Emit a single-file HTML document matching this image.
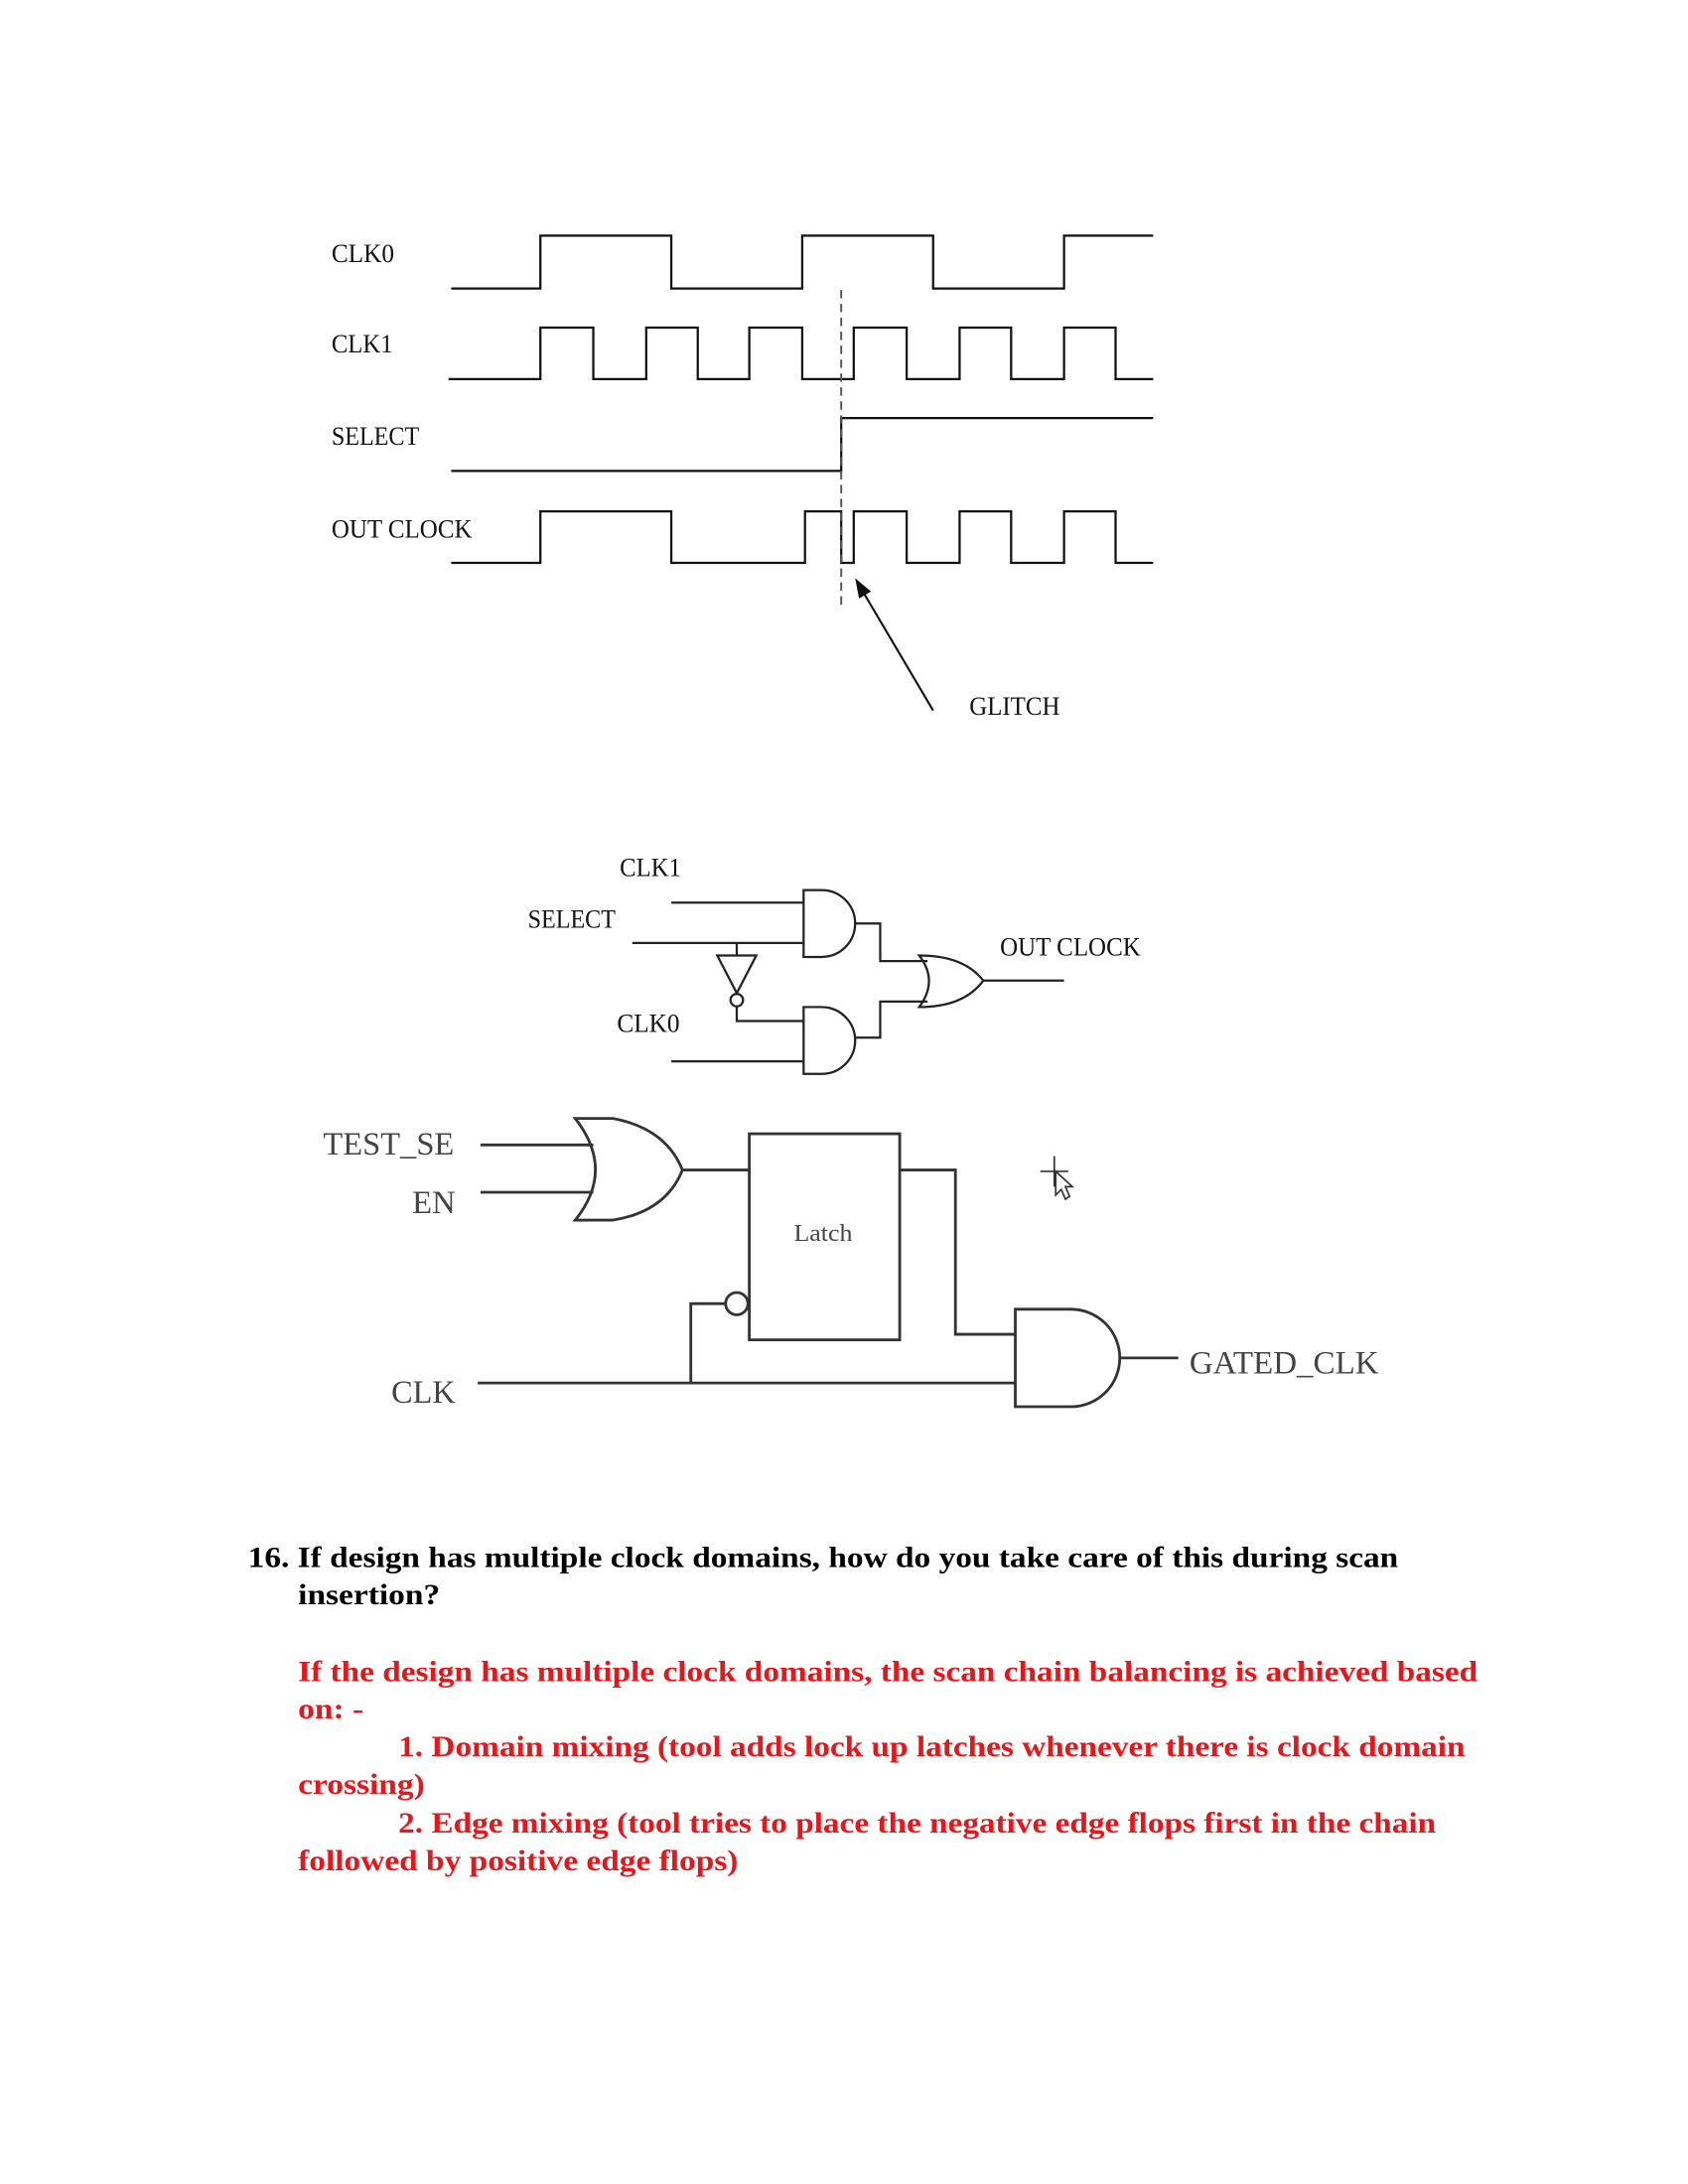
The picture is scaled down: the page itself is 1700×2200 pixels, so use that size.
<!DOCTYPE html>
<html><head><meta charset="utf-8"><style>html,body{margin:0;padding:0;background:#fff}svg{display:block}</style></head>
<body>
<svg width="1700" height="2200" viewBox="0 0 1212 1568" xmlns="http://www.w3.org/2000/svg">
<rect width="1224" height="1584" fill="#fff"/>
<g fill="none" stroke="#111" stroke-width="1.6">
<polyline points="324,207 388,207 388,169 482,169 482,207 576,207 576,169 670,169 670,207 764,207 764,169 828,169"/>
<polyline points="322,272 388,272 388,235 426,235 426,272 464,272 464,235 501,235 501,272 538,272 538,235 576,235 576,272 613,272 613,235 651,235 651,272 689,272 689,235 726,235 726,272 764,272 764,235 801,235 801,272 828,272"/>
<polyline points="324,338 604,338 604,300 828,300"/>
<polyline points="324,404 388,404 388,367 482,367 482,404 578,404 578,367 604,367 604,404 613,404 613,367 651,367 651,404 689,404 689,367 726,367 726,404 764,404 764,367 801,367 801,404 828,404"/>
<line x1="604" y1="208" x2="604" y2="434" stroke="#555" stroke-dasharray="6,4" stroke-width="1.4"/>
<line x1="670" y1="510" x2="618" y2="422" stroke-width="1.5"/>
</g>
<polygon points="614,415 625.4,424.6 616.8,429.6" fill="#111"/>
<g font-family="Liberation Serif, serif" font-size="19" fill="#111">
<text x="238" y="188" textLength="45" lengthAdjust="spacingAndGlyphs">CLK0</text>
<text x="238" y="253" textLength="44" lengthAdjust="spacingAndGlyphs">CLK1</text>
<text x="238" y="319" textLength="63" lengthAdjust="spacingAndGlyphs">SELECT</text>
<text x="238" y="386" textLength="101" lengthAdjust="spacingAndGlyphs">OUT CLOCK</text>
<text x="696" y="513" textLength="65" lengthAdjust="spacingAndGlyphs">GLITCH</text>
<text x="445" y="629" textLength="44" lengthAdjust="spacingAndGlyphs">CLK1</text>
<text x="379" y="666" textLength="63" lengthAdjust="spacingAndGlyphs">SELECT</text>
<text x="443" y="741" textLength="45" lengthAdjust="spacingAndGlyphs">CLK0</text>
<text x="718" y="686" textLength="101" lengthAdjust="spacingAndGlyphs">OUT CLOCK</text>
</g>
<g fill="none" stroke="#222" stroke-width="1.6">
<line x1="482" y1="648" x2="577" y2="648"/>
<line x1="454" y1="677" x2="577" y2="677"/>
<path d="M577,639 H590 A24,24 0 0 1 590,687 H577 Z"/>
<path d="M577,723 H590 A24,24 0 0 1 590,771 H577 Z"/>
<line x1="529" y1="677" x2="529" y2="686"/>
<polygon points="515,686 543,686 529,713"/>
<circle cx="529" cy="718" r="4.5"/>
<polyline points="529,723 529,733 577,733"/>
<line x1="482" y1="762" x2="577" y2="762"/>
<polyline points="614,663 632,663 632,690 666,690"/>
<polyline points="614,745 632,745 632,719 666,719"/>
<path d="M660,686 Q674,704 660,723 Q692,723 706,704 Q692,686 660,686 Z"/>
<line x1="706" y1="704" x2="764" y2="704"/>
</g>
<g fill="none" stroke="#333" stroke-width="2">
<line x1="345" y1="822" x2="426" y2="822"/>
<line x1="345" y1="856" x2="426" y2="856"/>
<path d="M413,803 Q442,840 413,876 L440,876 Q478,870 490,840 Q478,810 440,803 Z"/>
<line x1="490" y1="840" x2="538" y2="840"/>
<rect x="538" y="814" width="108" height="148"/>
<polyline points="646,840 686,840 686,958 729,958"/>
<circle cx="529" cy="936" r="8"/>
<polyline points="521,936 496,936 496,993"/>
<line x1="343" y1="993" x2="729" y2="993"/>
<path d="M729,940 H769 A35,35 0 0 1 769,1010 H729 Z"/>
<line x1="804" y1="975" x2="846" y2="975"/>
</g>
<g fill="#444" font-family="Liberation Serif, serif">
<text x="232" y="829" font-size="23" textLength="94" lengthAdjust="spacingAndGlyphs">TEST_SE</text>
<text x="296" y="871" font-size="23" textLength="31" lengthAdjust="spacingAndGlyphs">EN</text>
<text x="281" y="1007" font-size="23" textLength="46" lengthAdjust="spacingAndGlyphs">CLK</text>
<text x="854" y="986" font-size="23" textLength="136" lengthAdjust="spacingAndGlyphs">GATED_CLK</text>
<text x="570" y="891" font-size="17" textLength="42" lengthAdjust="spacingAndGlyphs">Latch</text>
</g>
<g stroke="#333" stroke-width="1.2" fill="#fff">
<line x1="757" y1="830" x2="757" y2="852"/>
<line x1="747" y1="841" x2="767" y2="841"/>
<path d="M758,841 L758,858 L762,854 L765,861 L768,859 L765,852 L770,852 Z"/>
</g>
<g font-family="Liberation Serif, serif" font-weight="bold" font-size="21">
<text x="178" y="1125" fill="#000" textLength="826" lengthAdjust="spacingAndGlyphs">16. If design has multiple clock domains, how do you take care of this during scan</text>
<text x="214" y="1152" fill="#000" textLength="102" lengthAdjust="spacingAndGlyphs">insertion?</text>
<g fill="#e8161b">
<text x="214" y="1207" textLength="847" lengthAdjust="spacingAndGlyphs">If the design has multiple clock domains, the scan chain balancing is achieved based</text>
<text x="214" y="1234" textLength="47" lengthAdjust="spacingAndGlyphs">on: -</text>
<text x="286" y="1261" textLength="766" lengthAdjust="spacingAndGlyphs">1. Domain mixing (tool adds lock up latches whenever there is clock domain</text>
<text x="214" y="1288" textLength="91" lengthAdjust="spacingAndGlyphs">crossing)</text>
<text x="286" y="1316" textLength="745" lengthAdjust="spacingAndGlyphs">2. Edge mixing (tool tries to place the negative edge flops first in the chain</text>
<text x="214" y="1343" textLength="316" lengthAdjust="spacingAndGlyphs">followed by positive edge flops)</text>
</g>
</g>
</svg>
</body></html>
